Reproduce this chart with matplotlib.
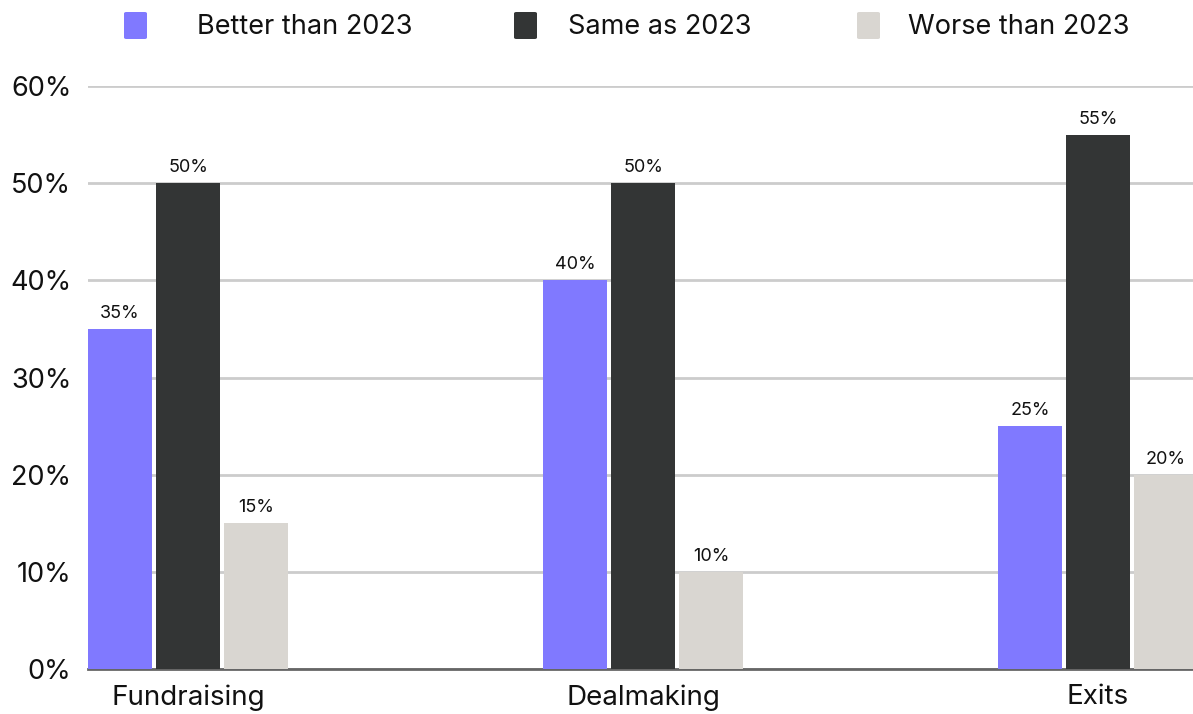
import matplotlib
matplotlib.use("Agg")
import matplotlib.pyplot as plt
import numpy as np
from matplotlib.patches import FancyBboxPatch

plt.rcParams["font.family"] = ["Inter", "DejaVu Sans"]

CATEGORIES = ["Fundraising", "Dealmaking", "Exits"]
SERIES = ["Better than 2023", "Same as 2023", "Worse than 2023"]
BETTER = [35, 40, 25]
SAME = [50, 50, 55]
WORSE = [15, 10, 20]
COLORS = ["#8079ff", "#333535", "#d9d6d1"]

W, H = 1193, 714
fig = plt.figure(figsize=(W / 100, H / 100), dpi=100)
ax = fig.add_axes([88 / W, 45 / H, 1 - 88 / W, (669 - 86) / H])

x = np.arange(len(CATEGORIES))
step, width = 0.1495, 0.1407
for i, (vals, col) in enumerate(zip([BETTER, SAME, WORSE], COLORS)):
    pos = x + (i - 1) * step
    ax.bar(pos, vals, width=width, color=col, zorder=3)
    for p, v in zip(pos, vals):
        ax.annotate(f"{v}%", (p, v), xytext=(0, 5), textcoords="offset points",
                    ha="center", va="bottom", fontsize=13, color="#111111")

ax.set_xlim(-0.2198, 2.2088)
ax.set_ylim(0, 60)
ax.set_yticks(range(0, 61, 10))
ax.set_yticklabels([f"{t}%" for t in range(0, 61, 10)], fontsize=19.5, color="#111111")
ax.set_xticks(x)
ax.set_xticklabels(CATEGORIES, fontsize=20, color="#111111")
ax.tick_params(length=0)
ax.tick_params(axis="y", pad=12)
ax.tick_params(axis="x", pad=11)
ax.grid(axis="y", color="#cccccc", lw=2, zorder=0)
for s in ["top", "right", "left"]:
    ax.spines[s].set_visible(False)
ax.spines["bottom"].set_color("#666666")
ax.spines["bottom"].set_linewidth(2)
ax.spines["bottom"].set_zorder(2)

# legend row across the top, drawn by hand in pixel coordinates
swatch_x = [124, 514, 857]
text_x = [197, 568, 908]
for sx, tx, col, name in zip(swatch_x, text_x, COLORS, SERIES):
    fig.patches.append(FancyBboxPatch(
        (sx / W, 1 - 39 / H), 23 / W, 27 / H, boxstyle="round,pad=0,rounding_size=0.002",
        transform=fig.transFigure, facecolor=col, edgecolor="none"))
    fig.text(tx / W, 1 - 27 / H, name, fontsize=19.5, color="#111111", va="center", ha="left")

fig.savefig("out.png", dpi=100)
